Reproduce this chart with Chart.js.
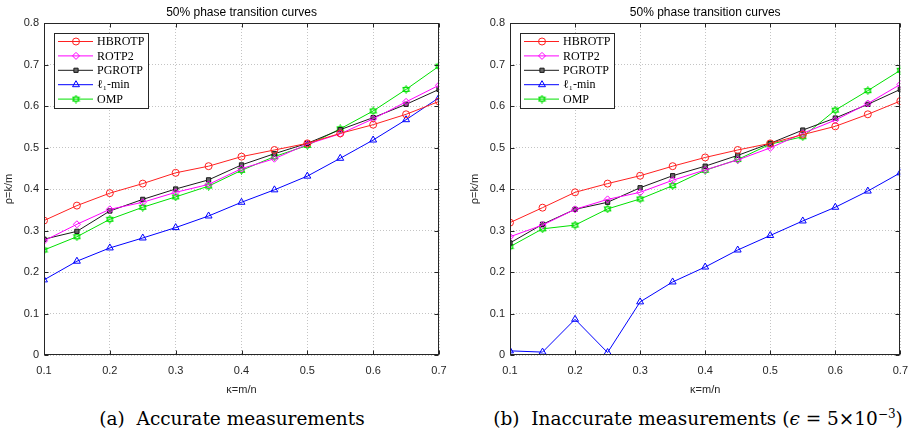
<!DOCTYPE html>
<html>
<head>
<meta charset="utf-8">
<script src="https://cdn.jsdelivr.net/npm/chart.js@4.4.1/dist/chart.umd.min.js"></script>
<style>
  body { margin: 0; background: #fff; width: 917px; height: 437px; position: relative; overflow: hidden; }
  .plot { position: absolute; top: 0; }
  .plot canvas { display: block; }
  .cap { position: absolute; top: 408px; line-height: 22px; font-family: "DejaVu Serif", serif; font-size: 18.5px;
         white-space: nowrap; transform: translateX(-50%); color: #000; }
  .cap sup { font-size: 12px; line-height: 0; }
</style>
</head>
<body>
<div class="plot" style="left:0"><canvas id="chartA" width="460" height="400"></canvas></div>
<div class="plot" style="left:466px"><canvas id="chartB" width="451" height="400"></canvas></div>
<div class="cap" style="left:232px">(a)&nbsp; Accurate measurements</div>
<div class="cap" style="left:698px">(b)&nbsp; Inaccurate measurements (<i>ϵ</i> = 5×10<sup>−3</sup>)</div>

<script>
// valores de kappa (eixo x) e marcas dos eixos
const kappa = [0.1, 0.15, 0.2, 0.25, 0.3, 0.35, 0.4, 0.45, 0.5, 0.55, 0.6, 0.65, 0.7];
const xTicks = [0.1, 0.2, 0.3, 0.4, 0.5, 0.6, 0.7];
const yTicks = [0, 0.1, 0.2, 0.3, 0.4, 0.5, 0.6, 0.7, 0.8];
const names = ['HBROTP', 'ROTP2', 'PGROTP', 'ℓ₁-min', 'OMP'];

// (a) medições exatas
const hbrotpA = [0.324, 0.360, 0.390, 0.413, 0.439, 0.455, 0.478, 0.494, 0.510, 0.534, 0.555, 0.580, 0.611];
const rotp2A  = [0.275, 0.315, 0.351, 0.368, 0.392, 0.411, 0.449, 0.473, 0.508, 0.533, 0.569, 0.610, 0.650];
const pgrotpA = [0.279, 0.298, 0.347, 0.375, 0.400, 0.422, 0.458, 0.485, 0.510, 0.543, 0.572, 0.604, 0.640];
const l1minA  = [0.181, 0.226, 0.258, 0.282, 0.307, 0.335, 0.368, 0.398, 0.431, 0.474, 0.518, 0.567, 0.620];
const ompA    = [0.253, 0.285, 0.327, 0.356, 0.381, 0.407, 0.445, 0.478, 0.505, 0.545, 0.588, 0.640, 0.696];

// (b) medições com ruído
const hbrotpB = [0.319, 0.355, 0.392, 0.413, 0.432, 0.455, 0.476, 0.494, 0.510, 0.531, 0.551, 0.580, 0.612];
const rotp2B  = [0.285, 0.313, 0.351, 0.375, 0.392, 0.421, 0.446, 0.470, 0.499, 0.534, 0.566, 0.606, 0.652];
const pgrotpB = [0.270, 0.315, 0.351, 0.368, 0.403, 0.432, 0.455, 0.481, 0.510, 0.542, 0.571, 0.604, 0.640];
const l1minB  = [0.010, 0.007, 0.086, 0.006, 0.128, 0.176, 0.212, 0.253, 0.288, 0.323, 0.356, 0.395, 0.439];
const ompB    = [0.261, 0.304, 0.313, 0.352, 0.376, 0.408, 0.445, 0.471, 0.508, 0.526, 0.590, 0.637, 0.686];

// estrela de seis pontas (marcador do OMP)
const hexStar = document.createElement('canvas');
hexStar.width = 9; hexStar.height = 9;
(function () {
    const c = hexStar.getContext('2d');
    c.strokeStyle = '#00e000';
    c.lineWidth = 1;
    for (const rot of [-Math.PI / 2, Math.PI / 2]) {
        c.beginPath();
        for (let k = 0; k < 3; k++) {
            const a = rot + k * 2 * Math.PI / 3;
            const px = 4.5 + 4 * Math.cos(a), py = 4.5 + 4 * Math.sin(a);
            k ? c.lineTo(px, py) : c.moveTo(px, py);
        }
        c.closePath();
        c.stroke();
    }
})();

const styles = [
    { color: '#ff2020', point: 'circle', radius: 3.5, fill: 'rgba(0,0,0,0)' },
    { color: '#ff00ff', point: 'rectRot', radius: 3.5, fill: 'rgba(0,0,0,0)' },
    { color: '#1a1a1a', point: 'rect', radius: 3, fill: '#666' },
    { color: '#0000ff', point: 'triangle', radius: 4, fill: 'rgba(0,0,0,0)' },
    { color: '#00e000', point: hexStar, radius: 4, fill: 'rgba(0,0,0,0)' }
];

// legenda dentro da área do gráfico (estilo MATLAB)
const insideLegend = {
    id: 'insideLegend',
    afterDatasetsDraw(chart) {
        const { ctx, chartArea: a } = chart;
        const x0 = Math.round(a.left) + 10, y0 = Math.round(a.top) + 10, w = 94, h = 75;
        ctx.save();
        ctx.fillStyle = '#fff';
        ctx.fillRect(x0, y0, w, h);
        ctx.strokeStyle = '#262626';
        ctx.lineWidth = 1;
        ctx.setLineDash([]);
        ctx.strokeRect(x0 + 0.5, y0 + 0.5, w, h);
        ctx.font = '12px "Liberation Serif", serif';
        ctx.textBaseline = 'middle';
        chart.data.datasets.forEach((ds, i) => {
            const y = y0 + 8.5 + i * 14.4;
            ctx.strokeStyle = ds.borderColor;
            ctx.lineWidth = 1;
            ctx.beginPath();
            ctx.moveTo(x0 + 4, y);
            ctx.lineTo(x0 + 39, y);
            ctx.stroke();
            ctx.fillStyle = ds.pointBackgroundColor;
            if (Chart.helpers && Chart.helpers.drawPoint) {
                Chart.helpers.drawPoint(ctx, { pointStyle: ds.pointStyle, radius: ds.pointRadius, borderWidth: 1, rotation: 0 }, x0 + 22, y);
            }
            ctx.fillStyle = '#000';
            ctx.fillText(ds.label, x0 + 43, y + 0.5);
        });
        ctx.restore();
    }
};

// caixa do eixo com marcas para dentro
const axisBox = {
    id: 'axisBox',
    afterDraw(chart) {
        const { ctx, chartArea: a, scales } = chart;
        const L = Math.round(a.left) + 0.5, R = Math.round(a.right) - 0.5;
        const T = Math.round(a.top) + 0.5, B = Math.round(a.bottom) - 0.5;
        ctx.save();
        ctx.strokeStyle = '#262626';
        ctx.lineWidth = 1;
        ctx.beginPath();
        xTicks.forEach(v => {
            const px = Math.round(scales.x.getPixelForValue(v)) + 0.5;
            ctx.moveTo(px, B); ctx.lineTo(px, B - 4);
            ctx.moveTo(px, T); ctx.lineTo(px, T + 4);
        });
        yTicks.forEach(v => {
            const py = Math.round(scales.y.getPixelForValue(v)) + 0.5;
            ctx.moveTo(L, py); ctx.lineTo(L + 4, py);
            ctx.moveTo(R, py); ctx.lineTo(R - 4, py);
        });
        ctx.stroke();
        ctx.strokeRect(L, T, R - L, B - T);
        ctx.restore();
    }
};

function makeChart(id, series, padRight) {
    return new Chart(document.getElementById(id), {
        type: 'line',
        data: {
            datasets: series.map((vals, i) => ({
                label: names[i],
                data: vals.map((v, j) => ({ x: kappa[j], y: v })),
                borderColor: styles[i].color,
                borderWidth: 1,
                pointStyle: styles[i].point,
                pointRadius: styles[i].radius,
                pointBorderWidth: 1,
                pointBorderColor: styles[i].color,
                pointBackgroundColor: styles[i].fill,
                tension: 0
            }))
        },
        options: {
            responsive: false,
            animation: false,
            devicePixelRatio: 1,
            layout: { padding: { left: 0, right: padRight, top: 0, bottom: 0 } },
            plugins: {
                legend: { display: false },
                tooltip: { enabled: false },
                title: {
                    display: true,
                    fullSize: false,
                    text: '50% phase transition curves',
                    color: '#000',
                    font: { family: '"Liberation Sans", Arial, sans-serif', size: 12, weight: 'normal', lineHeight: 1.2 },
                    padding: { top: 5, bottom: 3.6 }
                }
            },
            scales: {
                x: {
                    type: 'linear',
                    min: 0.1, max: 0.7,
                    afterBuildTicks: s => { s.ticks = xTicks.map(v => ({ value: v })); },
                    afterFit: s => { s.height = 45; },
                    grid: { color: '#c4c4c4', drawTicks: false },
                    border: { display: false, dash: [1, 2] },
                    ticks: {
                        color: '#262626', padding: 9, maxRotation: 0,
                        font: { family: '"Liberation Sans", Arial, sans-serif', size: 11 },
                        callback: v => v.toFixed(1)
                    },
                    title: {
                        display: true, text: 'κ=m/n', color: '#262626',
                        font: { family: '"Liberation Sans", Arial, sans-serif', size: 11, lineHeight: 1.2 },
                        padding: { top: 0, bottom: 3.4 }
                    }
                },
                y: {
                    min: 0, max: 0.8,
                    afterBuildTicks: s => { s.ticks = yTicks.map(v => ({ value: v })); },
                    afterFit: s => { s.width = 44; },
                    grid: { color: '#c4c4c4', drawTicks: false },
                    border: { display: false, dash: [1, 2] },
                    ticks: {
                        color: '#262626', padding: 5,
                        font: { family: '"Liberation Sans", Arial, sans-serif', size: 11 },
                        callback: v => (v === 0 ? '0' : v.toFixed(1))
                    },
                    title: {
                        display: true, text: 'ρ=k/m', color: '#262626',
                        font: { family: '"Liberation Sans", Arial, sans-serif', size: 11, lineHeight: 1.2 },
                        padding: { top: 2.4, bottom: 0 }
                    }
                }
            }
        },
        plugins: [insideLegend, axisBox]
    });
}

makeChart('chartA', [hbrotpA, rotp2A, pgrotpA, l1minA, ompA], 21);
makeChart('chartB', [hbrotpB, rotp2B, pgrotpB, l1minB, ompB], 11);
</script>
</body>
</html>
